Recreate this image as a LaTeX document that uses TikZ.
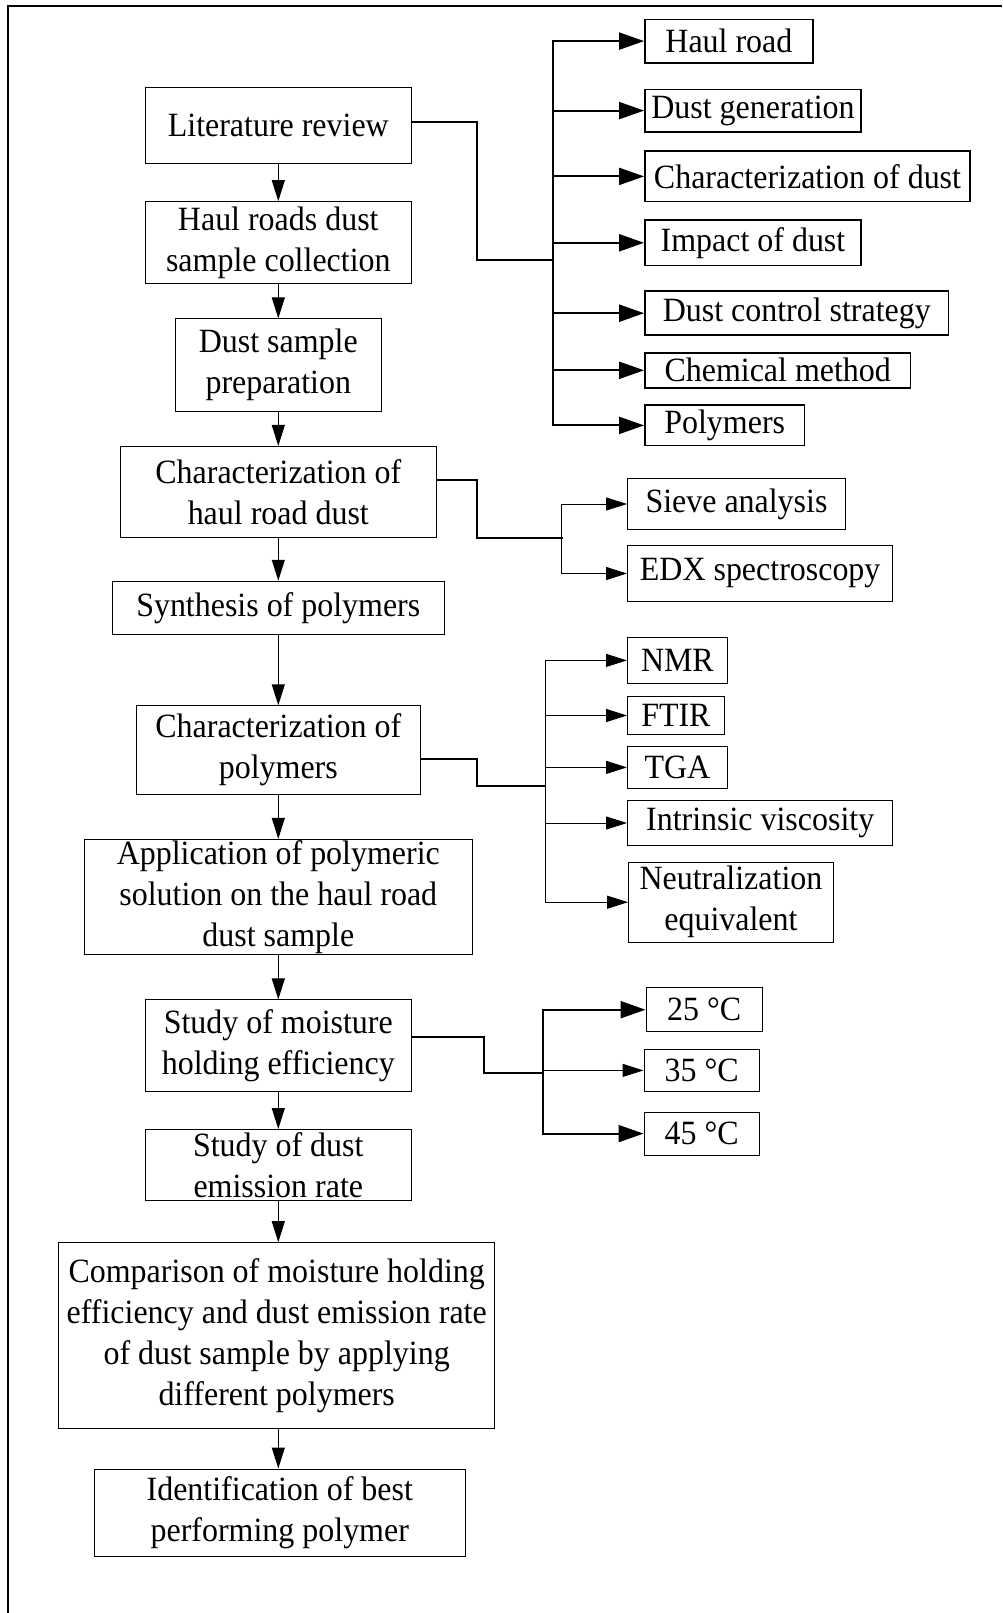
\documentclass[tikz,border=0pt]{standalone}
\usepackage{fontspec}
\setmainfont{Liberation Serif}[FakeStretch=0.94]
\usetikzlibrary{arrows.meta}

\begin{document}
\begin{tikzpicture}[x=1pt,y=-1pt]
\tikzstyle{block}=[rectangle,draw,line width=1pt,inner sep=0pt,align=center,font=\fontsize{34}{41}\selectfont]
\tikzstyle{topic}=[block,line width=1.8pt]
\tikzstyle{flow}=[line width=1pt,-{Triangle[length=21pt,width=13pt]}]
\tikzstyle{bigflow}=[line width=2pt,-{Triangle[length=25pt,width=17pt]}]
\tikzstyle{trunk}=[line width=2pt,line cap=rect]
\tikzstyle{branch}=[line width=1pt]

\useasboundingbox (0,0) rectangle (1002,1613);
\draw[line width=2pt] (8,1613) -- (8,6) -- (1002,6);

\node[block,minimum width=266.5pt,minimum height=76.2pt](Literature) at (278.3,125.5){Literature review};
\node[block,minimum width=266.5pt,minimum height=82.3pt](Collection) at (278.3,242.8){Haul roads dust\\sample collection};
\node[block,minimum width=205.7pt,minimum height=92.6pt](Preparation) at (278.3,365.2){Dust sample\\preparation};
\node[block,minimum width=315.8pt,minimum height=91.5pt](RoadDust) at (278.3,492.2){Characterization of\\haul road dust};
\node[block,minimum width=332.3pt,minimum height=53.5pt](Synthesis) at (278.3,608){Synthesis of polymers};
\node[block,minimum width=283.9pt,minimum height=88.5pt](PolyChar) at (278.3,750){Characterization of\\polymers};
\node[block,minimum width=387.8pt,minimum height=115.2pt](Application) at (278.3,897){Application of polymeric\\solution on the haul road\\dust sample};
\node[block,minimum width=266.5pt,minimum height=91.6pt](Moisture) at (278.3,1045.7){Study of moisture\\holding efficiency};
\node[block,minimum width=266.5pt,minimum height=71pt](Emission) at (278.3,1165){Study of dust\\emission rate};
\node[block,minimum width=436.2pt,minimum height=186.2pt](Comparison) at (276.7,1335.8){Comparison of moisture holding\\efficiency and dust emission rate\\of dust sample by applying\\different polymers};
\node[block,minimum width=370.4pt,minimum height=87.4pt](Best) at (279.8,1512.7){Identification of best\\performing polymer};

\node[topic,minimum width=167.7pt,minimum height=43.2pt](HaulRoad) at (728.9,41.1){Haul road};
\node[topic,minimum width=216pt,minimum height=42.2pt](Generation) at (753,110.6){Dust generation};
\node[topic,minimum width=325pt,minimum height=50.4pt](DustChar) at (807.5,176.4){Characterization of dust};
\node[topic,minimum width=216pt,minimum height=45.3pt](Impact) at (753,242.8){Impact of dust};
\node[topic,minimum width=303.5pt,minimum height=44.3pt](Control) at (796.8,313.2){Dust control strategy};
\node[topic,minimum width=265.4pt,minimum height=35pt](Chemical) at (777.7,370.3){Chemical method};
\node[topic,minimum width=159.4pt,minimum height=40.1pt](Polymers) at (724.7,425.4){Polymers};

\node[block,minimum width=218pt,minimum height=51.4pt](Sieve) at (736.5,504){Sieve analysis};
\node[block,minimum width=265.4pt,minimum height=56.6pt](EDX) at (760.2,573.5){EDX spectroscopy};

\node[block,minimum width=99.8pt,minimum height=45.3pt](NMR) at (677.4,660.4){NMR};
\node[block,minimum width=96.7pt,minimum height=38.1pt](FTIR) at (675.9,715.5){FTIR};
\node[block,minimum width=99.8pt,minimum height=41.2pt](TGA) at (677.4,767.4){TGA};
\node[block,minimum width=265.4pt,minimum height=45.3pt](Viscosity) at (760.2,823){Intrinsic viscosity};
\node[block,minimum width=204.7pt,minimum height=80.3pt](Neutralization) at (730.9,902.2){Neutralization\\equivalent};

\node[block,minimum width=116.3pt,minimum height=44.2pt](TempA) at (704.2,1009.7){25 °C};
\node[block,minimum width=115.2pt,minimum height=42.2pt](TempB) at (701.6,1070.4){35 °C};
\node[block,minimum width=115.2pt,minimum height=43.2pt](TempC) at (701.6,1133.6){45 °C};

\draw[flow] (Literature.south) -- (Collection.north);
\draw[flow] (Collection.south) -- (Preparation.north);
\draw[flow] (Preparation.south) -- (RoadDust.north);
\draw[flow] (RoadDust.south) -- (Synthesis.north);
\draw[flow] (Synthesis.south) -- (PolyChar.north);
\draw[flow] (PolyChar.south) -- (Application.north);
\draw[flow] (Application.south) -- (Moisture.north);
\draw[flow] (Moisture.south) -- (Emission.north);
\draw[flow] (Emission.south) -- (Emission.south |- Comparison.north);
\draw[flow] (Comparison.south -| Emission.south) -- (Emission.south |- Best.north);

\coordinate (LitJoint) at (553.4,260.3);
\draw[trunk] ([yshift=3pt]Literature.east) -- ++(64.8,0) |- (LitJoint);
\draw[trunk] (LitJoint |- HaulRoad) -- (LitJoint |- Polymers);
\draw[bigflow] (LitJoint |- HaulRoad) -- (HaulRoad);
\draw[bigflow] (LitJoint |- Generation) -- (Generation);
\draw[bigflow] (LitJoint |- DustChar) -- (DustChar);
\draw[bigflow] (LitJoint |- Impact) -- (Impact);
\draw[bigflow] (LitJoint |- Control) -- (Control);
\draw[bigflow] (LitJoint |- Chemical) -- (Chemical);
\draw[bigflow] (LitJoint |- Polymers) -- (Polymers);

\coordinate (RoadJoint) at (561.7,538);
\draw[trunk] ([yshift=11.8pt]RoadDust.east) -- ++(40.1,0) |- (RoadJoint);
\draw[branch] (RoadJoint |- Sieve) -- (RoadJoint |- EDX);
\draw[flow] (RoadJoint |- Sieve) -- (Sieve);
\draw[flow] (RoadJoint |- EDX) -- (EDX);

\coordinate (PolyJoint) at (545.2,785.9);
\draw[trunk] ([yshift=-9.2pt]PolyChar.east) -- ++(56.1,0) |- (PolyJoint);
\draw[branch] (PolyJoint |- NMR) -- (PolyJoint |- Neutralization);
\draw[flow] (PolyJoint |- NMR) -- (NMR);
\draw[flow] (PolyJoint |- FTIR) -- (FTIR);
\draw[flow] (PolyJoint |- TGA) -- (TGA);
\draw[flow] (PolyJoint |- Viscosity) -- (Viscosity);
\draw[flow] (PolyJoint |- Neutralization) -- (Neutralization);

\coordinate (MoistJoint) at (543.2,1073);
\draw[trunk] ([yshift=8.7pt]Moisture.east) -- ++(72,0) |- (MoistJoint);
\draw[trunk] (MoistJoint |- TempA) -- (MoistJoint |- TempC);
\draw[bigflow] (MoistJoint |- TempA) -- (TempA);
\draw[flow] (MoistJoint |- TempB) -- (TempB);
\draw[bigflow] (MoistJoint |- TempC) -- (TempC);

\end{tikzpicture}
\end{document}
